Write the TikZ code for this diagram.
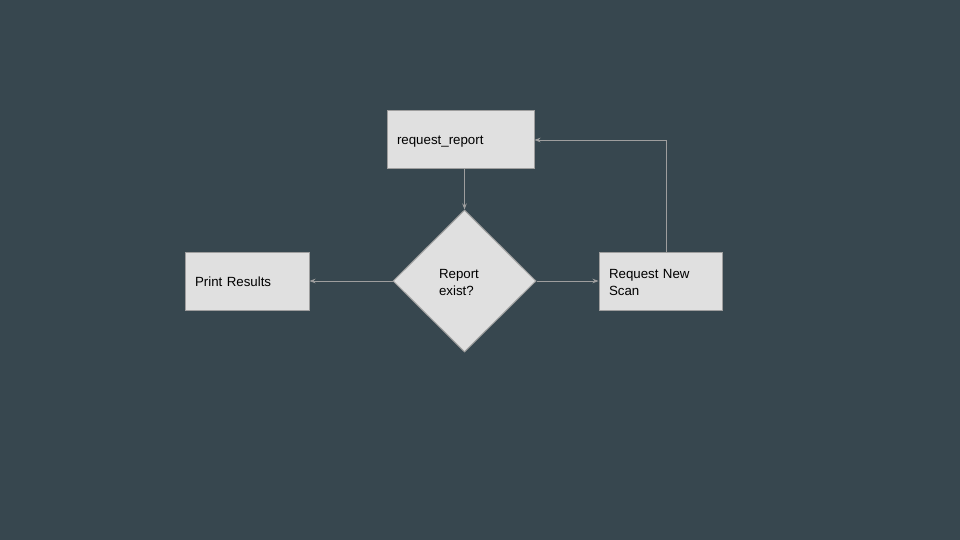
\documentclass[tikz,border=0pt]{standalone}
\usepackage{fontspec}
\setmainfont{Liberation Sans}
\usetikzlibrary{shapes.geometric, arrows.meta}
\definecolor{slate}{HTML}{37474F}
\definecolor{boxfill}{HTML}{E0E0E0}
\definecolor{edge}{HTML}{9E9E9E}

\begin{document}
\begin{tikzpicture}[x=1pt, y=-1pt,
box/.style={draw=edge, fill=boxfill, line width=1pt, inner sep=0pt, minimum height=58pt, text height=12pt, align=left, font=\fontsize{13.3}{17}\selectfont},
decision/.style={diamond, draw=edge, fill=boxfill, line width=1pt, inner sep=0pt, minimum width=143pt, minimum height=142pt, text width=51pt, text height=12pt, align=left, font=\fontsize{13.3}{17}\selectfont},
link/.style={draw=edge, line width=0.8pt, -{Stealth[length=6pt, width=4.5pt]}}]
\fill[slate] (0,0) rectangle (960,540);
\useasboundingbox (0,0) rectangle (960,540);
\node[box, minimum width=147pt, text width=127pt] (report) at (460.5,140) {request\_report};
\node[decision] (exist) at (464.5,281) {Report\\exist?};
\node[box, minimum width=124pt, text width=104pt] (print) at (247,281) {Print Results};
\node[box, minimum width=123pt, text width=103pt] (scan) at (660.5,281) {Request New\\Scan};
% connectors
\draw[link] (report.south -| exist.north) -- (exist.north);
\draw[link] (exist.west) -- (print.east);
\draw[link] (exist.east) -- (scan.west);
\draw[link] ([xshift=5.5pt]scan.north) |- (report.east);
\end{tikzpicture}
\end{document}
